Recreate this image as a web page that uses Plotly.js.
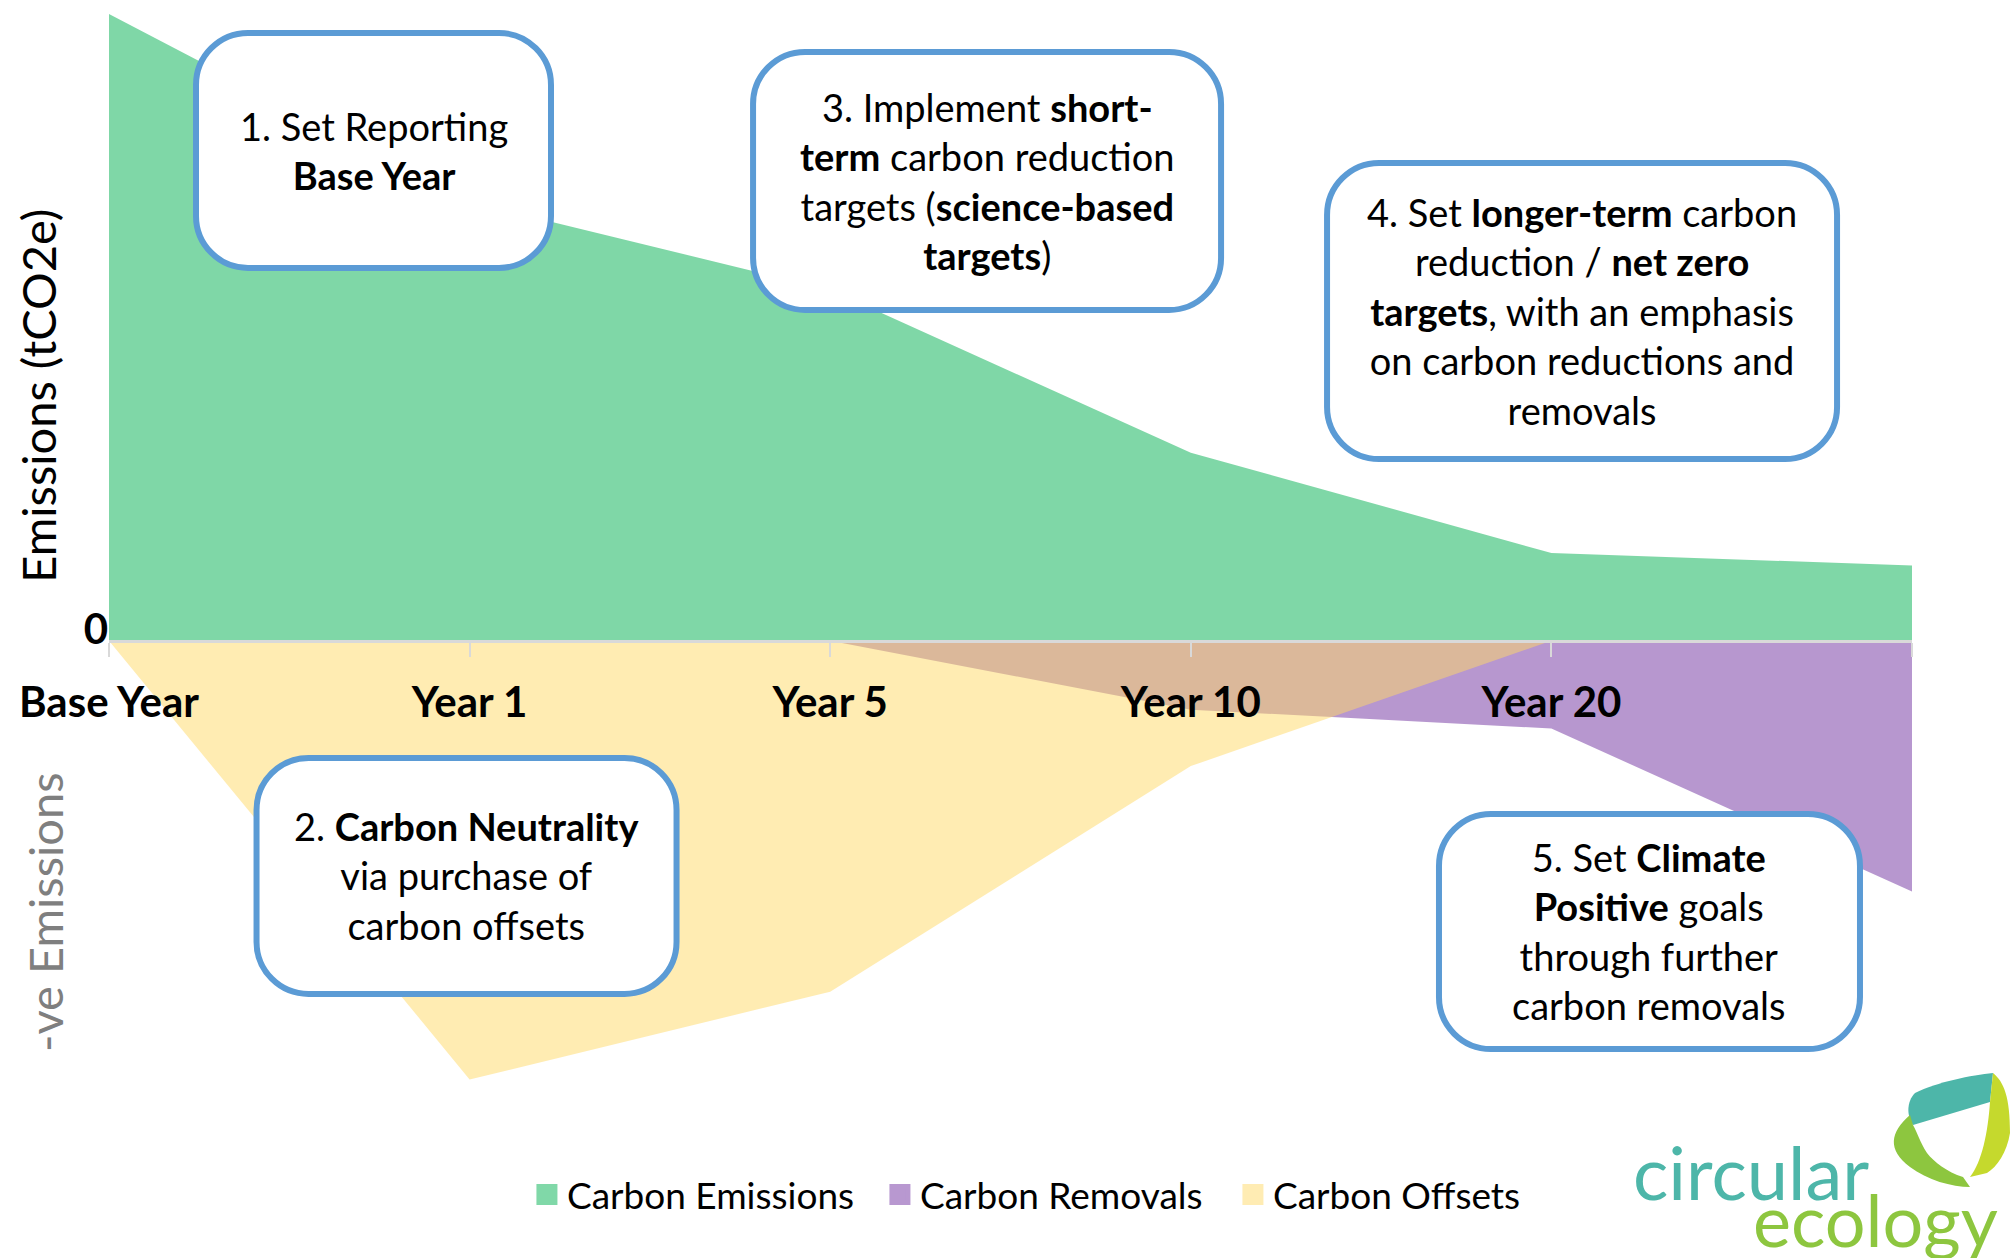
<!DOCTYPE html>
<html>
<head>
<meta charset="utf-8">
<script src="https://cdn.plot.ly/plotly-3.0.1.min.js"></script>
<style>
	html, body { margin: 0; padding: 0; background: #fff; }
	#chart { width: 2011px; height: 1258px; }
</style>
</head>
<body>
<div id="chart"></div>
<script>
// Data (base year emissions = 100)
var periods = ['Base Year', 'Year 1', 'Year 5', 'Year 10', 'Year 20', ''];
var emissions = [100, 70, 56, 30, 14, 12];
var removals = [0, 0, 0, -11, -14, -40];
var offsets = [0, -70, -56, -20, 0, 0];

var seriesNames = ['Carbon Emissions', 'Carbon Removals', 'Carbon Offsets'];
var seriesColors = ['#00B050', '#7030A0', '#FFD966'];

var yRange = [-72, 100];
var font = 'Lato, Calibri, Carlito, sans-serif';
var boxBlue = '#5B9BD5';

// hex -> rgba string
function rgba(hex, a) {
	var r = parseInt(hex.substr(1, 2), 16);
	var g = parseInt(hex.substr(3, 2), 16);
	var b = parseInt(hex.substr(5, 2), 16);
	return 'rgba(' + r + ',' + g + ',' + b + ',' + a + ')';
}

// same colour at half strength over white (for legend squares)
function halfOnWhite(hex) {
	var out = '#';
	for (var i = 1; i < 7; i += 2) {
		var c = Math.round((parseInt(hex.substr(i, 2), 16) + 255) / 2);
		out += ('0' + c.toString(16)).slice(-2);
	}
	return out;
}

// rounded rectangle path in pixels around the anchor
function roundedBox(w, h, r) {
	var k = 0.5523 * r;
	var x0 = -w / 2, x1 = w / 2, y0 = -h / 2, y1 = h / 2;
	var p = [];
	p.push('M' + (x0 + r) + ',' + y1);
	p.push('L' + (x1 - r) + ',' + y1);
	p.push('C' + (x1 - r + k) + ',' + y1 + ' ' + x1 + ',' + (y1 - r + k) + ' ' + x1 + ',' + (y1 - r));
	p.push('L' + x1 + ',' + (y0 + r));
	p.push('C' + x1 + ',' + (y0 + r - k) + ' ' + (x1 - r + k) + ',' + y0 + ' ' + (x1 - r) + ',' + y0);
	p.push('L' + (x0 + r) + ',' + y0);
	p.push('C' + (x0 + r - k) + ',' + y0 + ' ' + x0 + ',' + (y0 + r - k) + ' ' + x0 + ',' + (y0 + r));
	p.push('L' + x0 + ',' + (y1 - r));
	p.push('C' + x0 + ',' + (y1 - r + k) + ' ' + (x0 + r - k) + ',' + y1 + ' ' + (x0 + r) + ',' + y1);
	p.push('Z');
	return p.join(' ');
}

var xIdx = periods.map(function (p, i) { return i; });

// area traces
var seriesValues = [emissions, removals, offsets];
var data = [];
for (var s = 0; s < seriesValues.length; s++) {
	data.push({
		x: xIdx,
		y: seriesValues[s],
		type: 'scatter',
		mode: 'none',
		fill: 'tozeroy',
		fillcolor: rgba(seriesColors[s], 0.5),
		name: seriesNames[s],
		showlegend: false,
		hoverinfo: 'skip'
	});
}
// legend squares
for (var s = 0; s < seriesNames.length; s++) {
	data.push({
		x: [null],
		y: [null],
		type: 'scatter',
		mode: 'markers',
		name: seriesNames[s],
		marker: {
			symbol: 'square',
			size: 16,
			color: halfOnWhite(seriesColors[s]),
			line: { width: 5, color: halfOnWhite(seriesColors[s]) }
		}
	});
}

// text boxes: centre in paper coords, size in px
var boxes = [
	{ x: 0.1467, y: 0.8734, w: 355, h: 235, text: '1. Set Reporting<br><b>Base Year</b>' },
	{ x: 0.1983, y: 0.2004, w: 420, h: 236, text: '2. <b>Carbon Neutrality</b><br>via purchase of<br>carbon offsets' },
	{ x: 0.4870, y: 0.8451, w: 468, h: 258, text: '3. Implement <b>short-</b><br><b>term</b> carbon reduction<br>targets (<b>science-based</b><br><b>targets</b>)' },
	{ x: 0.8170, y: 0.7245, w: 510, h: 296, text: '4. Set <b>longer-term</b> carbon<br>reduction / <b>net zero</b><br><b>targets</b>, with an emphasis<br>on carbon reductions and<br>removals' },
	{ x: 0.8544, y: 0.1489, w: 421, h: 235, text: '5. Set <b>Climate</b><br><b>Positive</b> goals<br>through further<br>carbon removals' }
];

var shapes = [];
var annotations = [];
boxes.forEach(function (b) {
	shapes.push({
		type: 'path',
		xref: 'paper', yref: 'paper',
		xsizemode: 'pixel', ysizemode: 'pixel',
		xanchor: b.x, yanchor: b.y,
		path: roundedBox(b.w, b.h, 52),
		fillcolor: '#ffffff',
		line: { color: boxBlue, width: 6 },
		layer: 'above'
	});
	annotations.push({
		xref: 'paper', yref: 'paper',
		x: b.x, y: b.y,
		xanchor: 'center', yanchor: 'middle',
		text: b.text,
		showarrow: false,
		align: 'center',
		font: { family: font, size: 38, color: '#000000' }
	});
});

// axis side labels
annotations.push({
	xref: 'paper', yref: 'paper', x: -0.0395, y: 0.6456,
	xanchor: 'center', yanchor: 'middle', textangle: -90,
	text: 'Emissions (tCO2e)', showarrow: false,
	font: { family: font, size: 47, color: '#000000' }
});
annotations.push({
	xref: 'paper', yref: 'paper', x: -0.0355, y: 0.167,
	xanchor: 'center', yanchor: 'middle', textangle: -90,
	text: '-ve Emissions', showarrow: false,
	font: { family: font, size: 47, color: '#7f7f7f' }
});

// logo (bottom right)
annotations.push({
	xref: 'paper', yref: 'paper', x: 1, y: 0, xshift: -161, yshift: -79,
	xanchor: 'center', yanchor: 'middle',
	text: 'circular', showarrow: false,
	font: { family: font, size: 74, color: '#4DB6A9' }
});
annotations.push({
	xref: 'paper', yref: 'paper', x: 1, y: 0, xshift: -37, yshift: -127,
	xanchor: 'center', yanchor: 'middle',
	text: 'ecology', showarrow: false,
	font: { family: font, size: 72, color: '#8DC63F' }
});
var leaf = [
	{ c: '#4DB6A9', p: 'M3,-1 C25,10 60,17 81,19 L78,-10 L1,-33 C-5,-25 -6,-10 3,-1 Z' },
	{ c: '#8DC63F', p: 'M-2,-23 C-22,-40 -25,-58 -2,-75 C15,-88 40,-95 58,-95 L51,-85 C35,-80 22,-70 15,-61 C8,-50 5,-40 1,-33 Z' },
	{ c: '#C5D92D', p: 'M81,19 C92,10 98,-5 98,-41 C95,-60 85,-75 75,-81 L58,-85 C70,-70 76,-40 78,-10 Z' }
];
leaf.forEach(function (l) {
	shapes.push({
		type: 'path',
		xref: 'paper', yref: 'paper',
		xsizemode: 'pixel', ysizemode: 'pixel',
		xanchor: 1, yanchor: 0,
		path: l.p,
		fillcolor: l.c,
		line: { width: 0 },
		layer: 'above'
	});
});

var layout = {
	width: 2011,
	height: 1258,
	margin: { l: 109, r: 99, t: 14, b: 166 },
	paper_bgcolor: '#ffffff',
	plot_bgcolor: '#ffffff',
	showlegend: true,
	legend: {
		orientation: 'h',
		x: 0.2318, xanchor: 'left',
		y: -0.0955, yanchor: 'middle',
		entrywidth: 308,
		font: { family: font, size: 37, color: '#000000' },
		bgcolor: 'rgba(0,0,0,0)'
	},
	xaxis: {
		range: [0, xIdx.length - 1],
		tickvals: xIdx,
		ticktext: periods,
		anchor: 'free',
		position: (0 - yRange[0]) / (yRange[1] - yRange[0]),
		showline: true,
		linecolor: '#d9d9d9',
		linewidth: 3,
		ticks: 'outside',
		ticklen: 14,
		tickwidth: 2,
		tickcolor: '#d9d9d9',
		ticklabelstandoff: 10,
		showgrid: false,
		zeroline: false,
		tickfont: { family: font, size: 42, color: '#000000', weight: 'bold' }
	},
	yaxis: {
		range: yRange,
		tickvals: [0],
		ticktext: ['0'],
		ticks: '',
		showline: false,
		showgrid: false,
		zeroline: false,
		ticklabelshift: -11,
		tickfont: { family: font, size: 42, color: '#000000', weight: 'bold' }
	},
	shapes: shapes,
	annotations: annotations
};

Plotly.newPlot('chart', data, layout, { displayModeBar: false, staticPlot: true });
</script>
</body>
</html>
